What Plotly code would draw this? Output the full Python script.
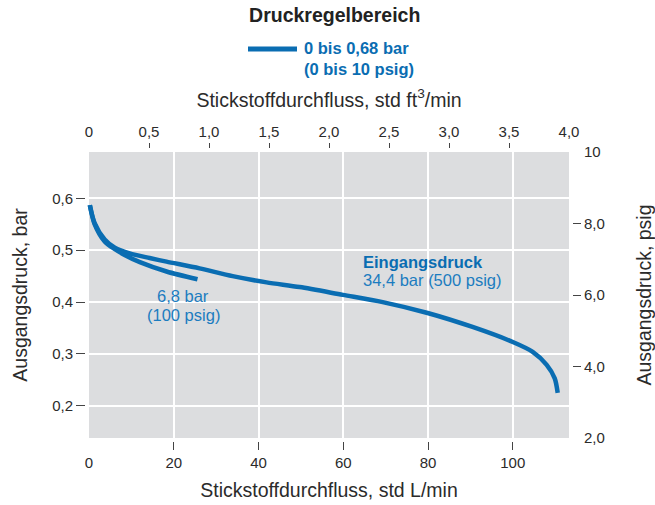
import plotly.graph_objects as go

# Umrechnungsfaktoren
LPM_PER_CFM = 28.3168
PSI_PER_BAR = 14.5038

# Kennlinie bei 34,4 bar (500 psig) Eingangsdruck
flow_hi = [0.2, 1.3, 3.7, 6.1, 9.6, 14.3, 18.3, 26.1, 33.9, 41.9, 49.7, 59.9,
           69.3, 79.9, 90.5, 100.0, 104.7, 108.0, 109.9, 110.6]
p_hi = [0.587, 0.553, 0.521, 0.505, 0.494, 0.485, 0.478, 0.465, 0.450, 0.438,
        0.429, 0.414, 0.400, 0.379, 0.352, 0.323, 0.304, 0.279, 0.253, 0.225]

# Kennlinie bei 6,8 bar (100 psig) Eingangsdruck
flow_lo = [0.2, 1.3, 3.7, 6.1, 8.4, 12.0, 18.3, 25.6]
p_lo = [0.587, 0.551, 0.517, 0.502, 0.491, 0.477, 0.459, 0.444]

# Achsenbeschriftungen
lpm_ticks = [20, 40, 60, 80, 100]
lpm_labels = ["20", "40", "60", "80", "100"]
lpm_end_ticks = [0]
lpm_end_labels = ["0"]

cfm_ticks = [0.5, 1.0, 1.5, 2.0, 2.5, 3.0, 3.5]
cfm_labels = ["0,5", "1,0", "1,5", "2,0", "2,5", "3,0", "3,5"]
cfm_end_ticks = [0, 4.0]
cfm_end_labels = ["0", "4,0"]

bar_ticks = [0.2, 0.3, 0.4, 0.5, 0.6]
bar_labels = ["0,2", "0,3", "0,4", "0,5", "0,6"]

psig_ticks = [4, 6, 8]
psig_labels = ["4,0", "6,0", "8,0"]
psig_end_ticks = [2, 10]
psig_end_labels = ["2,0", "10"]

# Diagrammbereich: 0 bis 4,0 ft3/min, 2 bis 10 psig
cfm_max = 4.0
psig_min, psig_max = 2.0, 10.0

BLUE = "#0a6db2"
LABEL_BLUE = "#1b7cc0"
TEXT = "#2b2b2b"
FONT = "Liberation Sans, Arial, sans-serif"

W, H = 655, 505
ML, MR, MT, MB = 86, 83, 149, 64
GAP = 3  # Abstand zwischen grauer Fläche und Teilstrichen

lpm_max = cfm_max * LPM_PER_CFM
pw = W - ML - MR
ph = H - MT - MB
x_pad = lpm_max * GAP / (pw - 2 * GAP)
y_pad = (psig_max - psig_min) * GAP / (ph - 2 * GAP)
x_range = [-x_pad, lpm_max + x_pad]
psig_range = [psig_min - y_pad, psig_max + y_pad]
bar_range = [v / PSI_PER_BAR for v in psig_range]
cfm_range = [v / LPM_PER_CFM for v in x_range]


def px_x(px):
    """Pixelposition -> Paper-Koordinate (horizontal)."""
    return (px - ML) / pw


def px_y(py):
    """Pixelposition -> Paper-Koordinate (vertikal)."""
    return (H - MB - py) / ph


fig = go.Figure()
fig.add_trace(go.Scatter(
    x=flow_hi, y=p_hi, mode="lines",
    line=dict(color=BLUE, width=4.5, shape="spline", smoothing=0.8),
    showlegend=False, hoverinfo="skip"))
fig.add_trace(go.Scatter(
    x=flow_lo, y=p_lo, mode="lines",
    line=dict(color=BLUE, width=4.5, shape="spline", smoothing=0.8),
    showlegend=False, hoverinfo="skip"))

# leere Spuren, damit die Zusatzachsen (ft3/min, psig, Endbeschriftungen) gezeichnet werden
for xa, ya in [("x2", "y"), ("x3", "y"), ("x4", "y"), ("x", "y2"), ("x", "y3")]:
    fig.add_trace(go.Scatter(x=[None], y=[None], xaxis=xa, yaxis=ya, mode="lines",
                             showlegend=False, hoverinfo="skip"))

tick_font = dict(family=FONT, size=15, color=TEXT)
title_font = dict(family=FONT, size=19.5, color=TEXT)

fig.update_layout(
    width=W, height=H,
    margin=dict(l=ML, r=MR, t=MT, b=MB, pad=0, autoexpand=False),
    paper_bgcolor="white", plot_bgcolor="white",
    font=dict(family=FONT, color=TEXT),
    title=dict(text="<b>Druckregelbereich</b>", x=0.511, xanchor="center",
               y=1 - 15 / H, yanchor="middle", yref="container",
               font=dict(family=FONT, size=19.5, color="#222222")),
    showlegend=False,
    xaxis=dict(range=x_range, tickmode="array", tickvals=lpm_ticks, ticktext=lpm_labels,
               ticks="outside", ticklen=8, tickwidth=1.3, tickcolor="#444", tickangle=0,
               showgrid=True, gridcolor="white", gridwidth=1.5, zeroline=False,
               showline=False, tickfont=tick_font,
               title=dict(text="Stickstoffdurchfluss, std L/min", font=title_font, standoff=13)),
    xaxis3=dict(range=x_range, overlaying="x", side="bottom", tickmode="array",
                tickvals=lpm_end_ticks, ticktext=lpm_end_labels, tickangle=0,
                ticks="outside", ticklen=8, tickcolor="rgba(0,0,0,0)",
                showgrid=False, zeroline=False, showline=False, tickfont=tick_font),
    xaxis2=dict(range=cfm_range, overlaying="x", side="top", tickmode="array",
                tickvals=cfm_ticks, ticktext=cfm_labels, tickangle=0,
                ticks="outside", ticklen=5, tickwidth=1.3, tickcolor="#444",
                showgrid=False, zeroline=False, showline=False, tickfont=tick_font,
                title=dict(text="Stickstoffdurchfluss, std ft<sup>3</sup>/min",
                           font=title_font, standoff=10)),
    xaxis4=dict(range=cfm_range, overlaying="x", side="top", tickmode="array",
                tickvals=cfm_end_ticks, ticktext=cfm_end_labels, tickangle=0,
                ticks="outside", ticklen=5, tickcolor="rgba(0,0,0,0)",
                showgrid=False, zeroline=False, showline=False, tickfont=tick_font),
    yaxis=dict(range=bar_range, tickmode="array", tickvals=bar_ticks, ticktext=bar_labels,
               ticks="outside", ticklen=9, tickwidth=1.3, tickcolor="#444",
               showgrid=True, gridcolor="white", gridwidth=1.5, zeroline=False,
               showline=False, tickfont=tick_font,
               title=dict(text="Ausgangsdruck, bar", font=title_font, standoff=19)),
    yaxis2=dict(range=psig_range, overlaying="y", side="right", tickmode="array",
                tickvals=psig_ticks, ticktext=psig_labels,
                ticks="outside", ticklen=8, tickwidth=1.3, tickcolor="#444",
                showgrid=False, zeroline=False, showline=False, tickfont=tick_font,
                title=dict(text="Ausgangsdruck, psig", font=title_font, standoff=33)),
    yaxis3=dict(range=psig_range, overlaying="y", side="right", tickmode="array",
                tickvals=psig_end_ticks, ticktext=psig_end_labels,
                ticks="outside", ticklen=8, tickcolor="rgba(0,0,0,0)",
                showgrid=False, zeroline=False, showline=False, tickfont=tick_font),
)

# graue Diagrammfläche
fig.add_shape(type="rect", xref="x", yref="y2", x0=0, x1=lpm_max, y0=psig_min, y1=psig_max,
              fillcolor="#dcdddf", line=dict(width=0), layer="below")

# Legende: Druckregelbereich
fig.add_shape(type="line", xref="paper", yref="paper",
              x0=px_x(248), x1=px_x(297), y0=px_y(49), y1=px_y(49),
              line=dict(color=BLUE, width=5))
fig.add_annotation(xref="paper", yref="paper", x=px_x(302), y=px_y(37),
                   text="<b>0 bis 0,68 bar<br>(0 bis 10 psig)</b>", showarrow=False,
                   xanchor="left", yanchor="top", align="left",
                   font=dict(family=FONT, size=16.5, color=BLUE))

# Kurvenbeschriftungen
fig.add_annotation(x=64.2, y=0.477, xref="x", yref="y", text="<b>Eingangsdruck</b>",
                   showarrow=False, xanchor="left", yanchor="middle",
                   font=dict(family=FONT, size=16.5, color=BLUE))
fig.add_annotation(x=64.2, y=0.442, xref="x", yref="y", text="34,4 bar (500 psig)",
                   showarrow=False, xanchor="left", yanchor="middle",
                   font=dict(family=FONT, size=16.5, color=LABEL_BLUE))
fig.add_annotation(x=22.2, y=0.412, xref="x", yref="y", text="6,8 bar",
                   showarrow=False, xanchor="center", yanchor="middle",
                   font=dict(family=FONT, size=16.5, color=LABEL_BLUE))
fig.add_annotation(x=22.2, y=0.376, xref="x", yref="y", text="(100 psig)",
                   showarrow=False, xanchor="center", yanchor="middle",
                   font=dict(family=FONT, size=16.5, color=LABEL_BLUE))

fig.write_html("out.html")
